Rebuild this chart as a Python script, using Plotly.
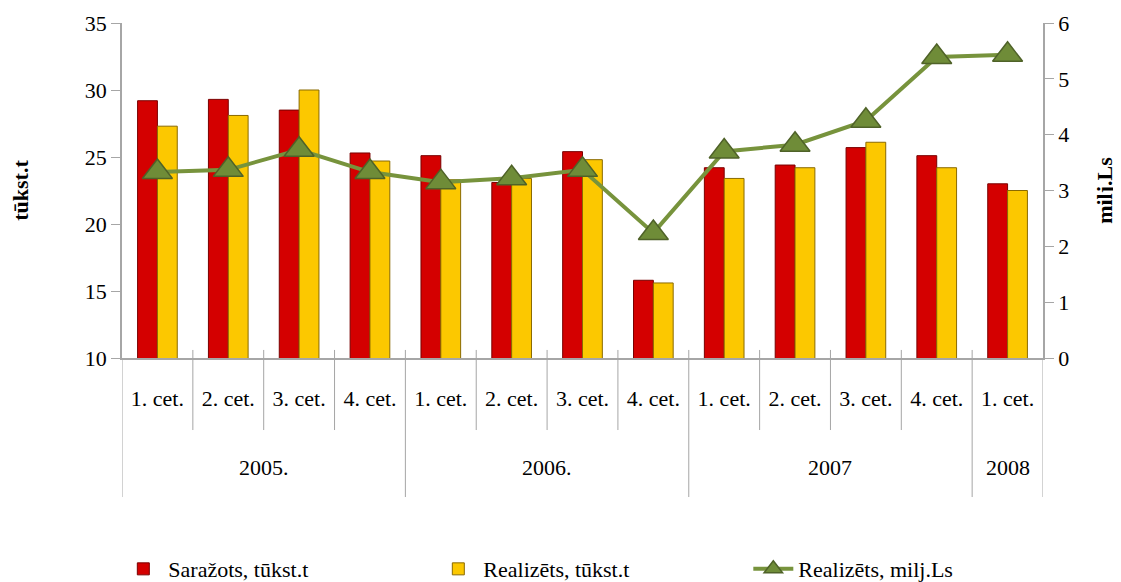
import plotly.graph_objects as go

quarters = ["1. cet.", "2. cet.", "3. cet.", "4. cet.",
            "1. cet.", "2. cet.", "3. cet.", "4. cet.",
            "1. cet.", "2. cet.", "3. cet.", "4. cet.",
            "1. cet."]
years = ["2005.", "2006.", "2007", "2008"]
year_sizes = [4, 4, 4, 1]

produced = [29.2, 29.3, 28.5, 25.3, 25.1, 23.1, 25.4, 15.8, 24.2, 24.4, 25.7, 25.1, 23.0]
sold_t = [27.3, 28.1, 30.0, 24.7, 23.3, 23.4, 24.8, 15.6, 23.4, 24.2, 26.1, 24.2, 22.5]
sold_ls = [3.33, 3.37, 3.73, 3.33, 3.15, 3.22, 3.37, 2.24, 3.70, 3.82, 4.25, 5.39, 5.43]

xs = list(range(len(quarters)))
font = "'Liberation Serif', 'DejaVu Serif', serif"
grey = "#a6a6a6"

fig = go.Figure()
fig.add_trace(go.Bar(x=xs, y=produced, name="Saražots, tūkst.t",
                     marker=dict(color="#d40000", line=dict(color="#7a0000", width=1))))
fig.add_trace(go.Bar(x=xs, y=sold_t, name="Realizēts, tūkst.t",
                     marker=dict(color="#fcc800", line=dict(color="#8a6a00", width=1))))
fig.add_trace(go.Scatter(x=xs, y=sold_ls, name="Realizēts, milj.Ls", yaxis="y2",
                         mode="lines+markers",
                         line=dict(color="#77933c", width=4),
                         marker=dict(symbol="triangle-up", size=26, color="#6f8c38",
                                     line=dict(color="#4f6228", width=1.5))))

fig.update_layout(
    width=1121, height=582,
    margin=dict(l=114, r=86, t=15, b=232, autoexpand=False),
    paper_bgcolor="white", plot_bgcolor="white",
    font=dict(family=font, size=22, color="black"),
    barmode="group", bargap=0.44, bargroupgap=0,
    showlegend=True,
    legend=dict(orientation="h", x=-0.004, xanchor="left", y=-0.63, yanchor="middle",
                font=dict(size=22), entrywidth=260, itemwidth=40,
                bgcolor="rgba(0,0,0,0)"),
    xaxis=dict(range=[-0.5, 12.5], tickvals=xs, ticktext=quarters, ticks="",
               showline=True, linecolor=grey, linewidth=1.5, showgrid=False,
               zeroline=False, ticklabelstandoff=20, tickfont=dict(size=22),
               automargin=False),
    yaxis=dict(range=[10, 35], dtick=5, ticks="outside", ticklen=9, tickcolor=grey,
               showline=True, linecolor=grey, linewidth=1.5, showgrid=False,
               zeroline=False, tickfont=dict(size=22), automargin=False,
               title=dict(text="<b>tūkst.t</b>", font=dict(size=22), standoff=52)),
    yaxis2=dict(range=[0, 6], dtick=1, overlaying="y", side="right", ticks="outside",
                ticklen=9, tickcolor=grey, showline=True, linecolor=grey, linewidth=1.5,
                showgrid=False, zeroline=False, tickfont=dict(size=22), automargin=False,
                title=dict(text="<b>milj.Ls</b>", font=dict(size=22), standoff=28)),
)

# category divider lines below the axis
shapes = []
start = 0
for name, n in zip(years, year_sizes):
    fig.add_annotation(x=start + (n - 1) / 2, y=-0.328, xref="x", yref="paper",
                       text=name, showarrow=False, font=dict(size=22), yanchor="middle")
    for k in range(1, n):
        b = start + k - 0.5
        shapes.append(dict(type="line", xref="x", yref="paper", x0=b, x1=b,
                           y0=0.024, y1=-0.215, line=dict(color=grey, width=1)))
    start += n
for b in [-0.5, 3.5, 7.5, 11.5, 12.5]:
    shapes.append(dict(type="line", xref="x", yref="paper", x0=b, x1=b,
                       y0=0.0 if b in (-0.5, 12.5) else 0.024, y1=-0.415,
                       line=dict(color=grey, width=1)))
fig.update_layout(shapes=shapes)

fig.write_html("out.html")
